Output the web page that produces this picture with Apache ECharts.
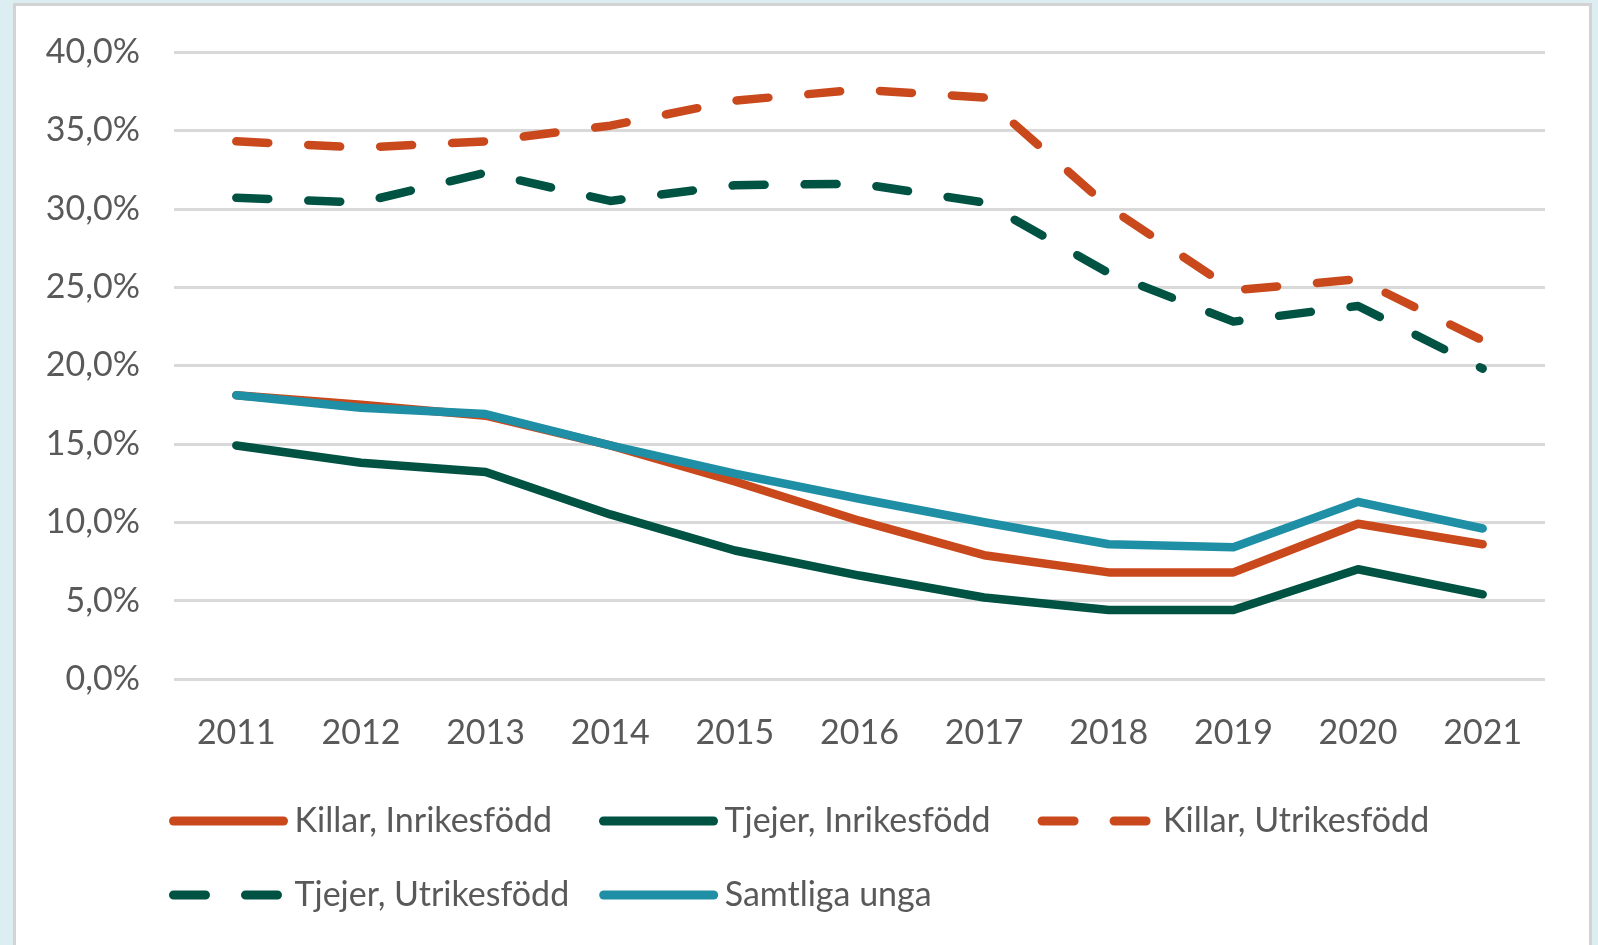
<!DOCTYPE html>
<html>
<head>
<meta charset="utf-8">
<script src="https://cdn.jsdelivr.net/npm/echarts@6/dist/echarts.min.js"></script>
<style>
html,body{margin:0;padding:0;width:1598px;height:945px;overflow:hidden;background:#ddeef3;}
#panel{position:absolute;left:13px;top:3px;width:1573px;height:1000px;background:#fff;border:3px solid #d3d3d3;box-sizing:content-box;}
#chart{position:absolute;left:0;top:0;width:1598px;height:945px;}
</style>
</head>
<body>
<div id="panel"></div>
<div id="chart"></div>
<script>
const years = ['2011','2012','2013','2014','2015','2016','2017','2018','2019','2020','2021'];
const killarInrikes = [18.1, 17.5, 16.8, 14.9, 12.6, 10.1, 7.9, 6.8, 6.8, 9.9, 8.6];
const tjejerInrikes = [14.9, 13.8, 13.2, 10.5, 8.2, 6.6, 5.2, 4.4, 4.4, 7.0, 5.4];
const killarUtrikes = [34.3, 33.9, 34.3, 35.3, 36.9, 37.6, 37.1, 30.1, 24.8, 25.5, 21.6];
const tjejerUtrikes = [30.7, 30.4, 32.3, 30.5, 31.5, 31.6, 30.4, 25.9, 22.8, 23.8, 19.8];
const samtliga = [18.1, 17.3, 16.9, 14.9, 13.1, 11.5, 10.0, 8.6, 8.4, 11.3, 9.6];

const names = ['Killar, Inrikesfödd','Tjejer, Inrikesfödd','Killar, Utrikesfödd','Tjejer, Utrikesfödd','Samtliga unga'];
const ORANGE = '#C9491C', GREEN = '#005243', TEAL = '#1F8FA5';
const FONT = 'Lato';
const FS = 34;
const DASH = [32, 40];

function mk(name, data, color, dashed) {
  return {
    name: name, type: 'line', data: data, symbol: 'none', smooth: false,
    lineStyle: { color: color, width: 8.5, type: dashed ? DASH : 'solid', cap: 'round', join: 'round' },
    itemStyle: { color: color },
    emphasis: { disabled: true }
  };
}

const legendCommon = {
  orient: 'horizontal', itemWidth: 110, itemHeight: 14,
  itemStyle: { opacity: 0 },
  lineStyle: { width: 9, cap: 'round' },
  textStyle: { color: '#595959', fontSize: FS, fontFamily: FONT, padding: [0,0,0,6] }
};

const chart = echarts.init(document.getElementById('chart'), null, { renderer: 'canvas' });
chart.setOption({
  backgroundColor: 'transparent',
  animation: false,
  grid: { left: 174, right: 53, top: 52, bottom: 266, containLabel: false },
  legend: [
    Object.assign({}, legendCommon, { left: 164, top: 799, itemGap: 47, data: names.slice(0, 3) }),
    Object.assign({}, legendCommon, { left: 164, top: 873, itemGap: 30, data: names.slice(3) })
  ],
  xAxis: {
    type: 'category', data: years, boundaryGap: true,
    axisLine: { show: false }, axisTick: { show: false },
    axisLabel: { color: '#595959', fontSize: FS, fontFamily: FONT, margin: 37 }
  },
  yAxis: {
    type: 'value', min: 0, max: 40, interval: 5,
    axisLine: { show: false }, axisTick: { show: false },
    splitLine: { lineStyle: { color: '#d9d9d9', width: 3 } },
    axisLabel: {
      color: '#595959', fontSize: FS, fontFamily: FONT, margin: 34,
      formatter: v => v.toFixed(1).replace('.', ',') + '%'
    }
  },
  series: [
    mk(names[0], killarInrikes, ORANGE, false),
    mk(names[1], tjejerInrikes, GREEN, false),
    mk(names[2], killarUtrikes, ORANGE, true),
    mk(names[3], tjejerUtrikes, GREEN, true),
    mk(names[4], samtliga, TEAL, false)
  ]
});
</script>
</body>
</html>
